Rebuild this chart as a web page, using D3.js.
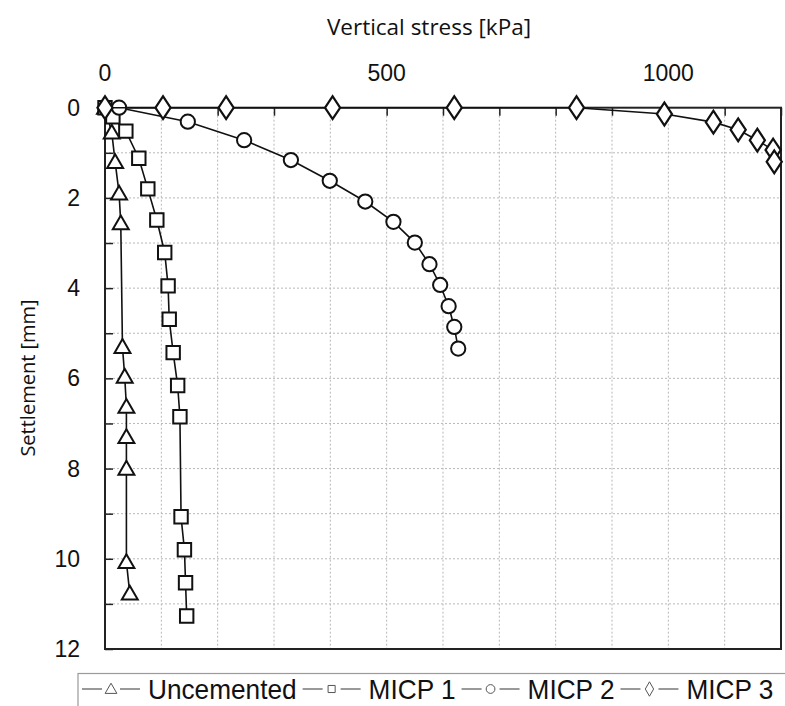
<!DOCTYPE html>
<html>
<head>
<meta charset="utf-8">
<script src="https://cdn.jsdelivr.net/npm/d3@7"></script>
<style>
  html, body { margin: 0; padding: 0; background: #fff; }
  svg { display: block; }
</style>
</head>
<body>
<svg id="chart" width="785" height="706"></svg>
<script>
// ---- data ----
const stressTicks = [0, 500, 1000];
const settlementTicks = [0, 2, 4, 6, 8, 10, 12];

const seriesNames = ["Uncemented", "MICP 1", "MICP 2", "MICP 3"];

const uncementedStress = [0, 12, 18, 25, 28, 31, 35, 38, 38, 38, 38, 44];
const uncementedSettlement = [0, 0.55, 1.2, 1.9, 2.56, 5.3, 5.96, 6.63, 7.3, 8.0, 10.07, 10.77];

const micp1Stress = [0, 14, 37, 60, 76, 92, 106, 112, 114, 121, 129, 133, 135, 141, 143, 145];
const micp1Settlement = [0, 0.2, 0.52, 1.12, 1.8, 2.49, 3.21, 3.95, 4.69, 5.43, 6.16, 6.85, 9.07, 9.8, 10.53, 11.27];

const micp2Stress = [25, 147, 247, 330, 399, 462, 512, 550, 576, 595, 610, 620, 627];
const micp2Settlement = [0, 0.31, 0.72, 1.16, 1.62, 2.08, 2.53, 2.99, 3.47, 3.93, 4.4, 4.86, 5.34];

const micp3Stress = [0, 103, 215, 404, 620, 837, 993, 1080, 1124, 1158, 1186, 1188];
const micp3Settlement = [0, 0, 0, 0, 0, 0, 0.14, 0.32, 0.49, 0.72, 0.94, 1.2];

// ---- layout ----
const svg = d3.select("#chart");
const L = 105, T = 107.7, R = 781, B = 649;

const x = d3.scaleLinear().domain([0, 1200]).range([L, R]);
const y = d3.scaleLinear().domain([0, 12]).range([T, B]);

// grid
const grid = svg.append("g");
grid.selectAll("line.vg").data(d3.range(100, 1200, 100)).join("line")
  .attr("x1", d => x(d)).attr("x2", d => x(d)).attr("y1", T).attr("y2", B)
  .attr("stroke", "#b8b8b8").attr("stroke-width", 1).attr("stroke-dasharray", "2,2");
grid.selectAll("line.hg").data(d3.range(1, 12, 1)).join("line")
  .attr("y1", d => y(d)).attr("y2", d => y(d)).attr("x1", L).attr("x2", R)
  .attr("stroke", "#b8b8b8").attr("stroke-width", 1).attr("stroke-dasharray", "2,2");

// axes (ticks inside)
const xAxis = d3.axisTop(x).tickValues(d3.range(0, 1201, 100)).tickSize(-8).tickFormat("");
const gx = svg.append("g").attr("transform", `translate(0,${T})`).call(xAxis);
gx.select(".domain").remove();
gx.selectAll(".tick line").attr("stroke", "#222").attr("stroke-width", 1.5);

const yAxis = d3.axisLeft(y).tickValues(d3.range(0, 13, 1)).tickSize(-8).tickFormat("");
const gy = svg.append("g").attr("transform", `translate(${L},0)`).call(yAxis);
gy.select(".domain").remove();
gy.selectAll(".tick line").attr("stroke", "#222").attr("stroke-width", 1.5);

// tick labels
svg.append("g").selectAll("text").data(stressTicks).join("text")
  .attr("x", d => x(d)).attr("y", 81)
  .attr("text-anchor", "middle")
  .attr("font-family", "Liberation Sans, Arial, sans-serif").attr("font-size", 23)
  .attr("fill", "#111").text(d => d);

svg.append("g").selectAll("text").data(settlementTicks).join("text")
  .attr("x", 80).attr("y", d => y(d) + 8)
  .attr("text-anchor", "end")
  .attr("font-family", "Liberation Sans, Arial, sans-serif").attr("font-size", 23)
  .attr("fill", "#111").text(d => d);

// frame
svg.append("rect").attr("x", L).attr("y", T).attr("width", R - L).attr("height", B - T)
  .attr("fill", "none").attr("stroke", "#222").attr("stroke-width", 2);

// axis titles
svg.append("text").attr("x", 429).attr("y", 35).attr("text-anchor", "middle")
  .attr("font-family", "Open Sans, sans-serif").attr("font-size", 22.5).attr("fill", "#111")
  .text("Vertical stress [kPa]");
svg.append("text").attr("transform", "translate(35,378) rotate(-90)").attr("text-anchor", "middle")
  .attr("font-family", "Open Sans, sans-serif").attr("font-size", 20).attr("fill", "#111")
  .text("Settlement [mm]");

// markers
const sym = {
  "Uncemented": d3.symbolTriangle,
  "MICP 1": d3.symbolSquare,
  "MICP 2": d3.symbolCircle,
  "MICP 3": d3.symbolDiamond
};
const symSize = { "Uncemented": 110, "MICP 1": 180, "MICP 2": 160, "MICP 3": 150 };
const symOffset = { "Uncemented": 1.5, "MICP 1": 0, "MICP 2": 0, "MICP 3": 0 };

const series = [
  { name: "Uncemented", xs: uncementedStress, ys: uncementedSettlement },
  { name: "MICP 1", xs: micp1Stress, ys: micp1Settlement },
  { name: "MICP 2", xs: micp2Stress, ys: micp2Settlement },
  { name: "MICP 3", xs: micp3Stress, ys: micp3Settlement }
];

const line = d3.line().x(d => x(d[0])).y(d => y(d[1]));

series.forEach(s => {
  const pts = s.xs.map((v, i) => [v, s.ys[i]]);
  const g = svg.append("g");
  g.append("path").attr("d", line(pts)).attr("fill", "none")
    .attr("stroke", "#111").attr("stroke-width", 1.6);
  g.selectAll("path.m").data(pts).join("path")
    .attr("class", "m")
    .attr("d", d3.symbol().type(sym[s.name]).size(symSize[s.name]))
    .attr("transform", d => `translate(${x(d[0])},${y(d[1]) + symOffset[s.name]})` + (s.name === "MICP 3" ? " scale(1.15,1)" : ""))
    .attr("fill", "#fff").attr("stroke", "#111").attr("stroke-width", 2);
});

// legend
const lg = svg.append("g");
lg.append("rect").attr("x", 78).attr("y", 673.5).attr("width", 720).attr("height", 40)
  .attr("fill", "#fff").attr("stroke", "#9a9a9a").attr("stroke-width", 1.2);

let cx = 82;
const ly = 689;
const narrow = 0.92;
series.forEach((s, i) => {
  const item = lg.append("g");
  item.append("line").attr("x1", cx).attr("x2", cx + 20).attr("y1", ly).attr("y2", ly)
    .attr("stroke", "#555").attr("stroke-width", 1.2);
  item.append("path")
    .attr("d", d3.symbol().type(sym[s.name]).size(s.name === "MICP 1" ? 50 : 60))
    .attr("transform", `translate(${cx + 29},${ly + (s.name === "Uncemented" ? 1 : 0)})`)
    .attr("fill", "#fff").attr("stroke", "#555").attr("stroke-width", 1);
  item.append("line").attr("x1", cx + 38).attr("x2", cx + 58).attr("y1", ly).attr("y2", ly)
    .attr("stroke", "#555").attr("stroke-width", 1.2);
  const t = item.append("text")
    .attr("transform", `translate(${cx + 66},${ly + 10}) scale(${narrow},1)`)
    .attr("font-family", "Liberation Sans, Arial, sans-serif")
    .attr("font-size", 28.5).attr("fill", "#111").text(s.name);
  const w = t.node().getComputedTextLength() * narrow;
  cx = cx + 66 + w + 6;
});
</script>
</body>
</html>
